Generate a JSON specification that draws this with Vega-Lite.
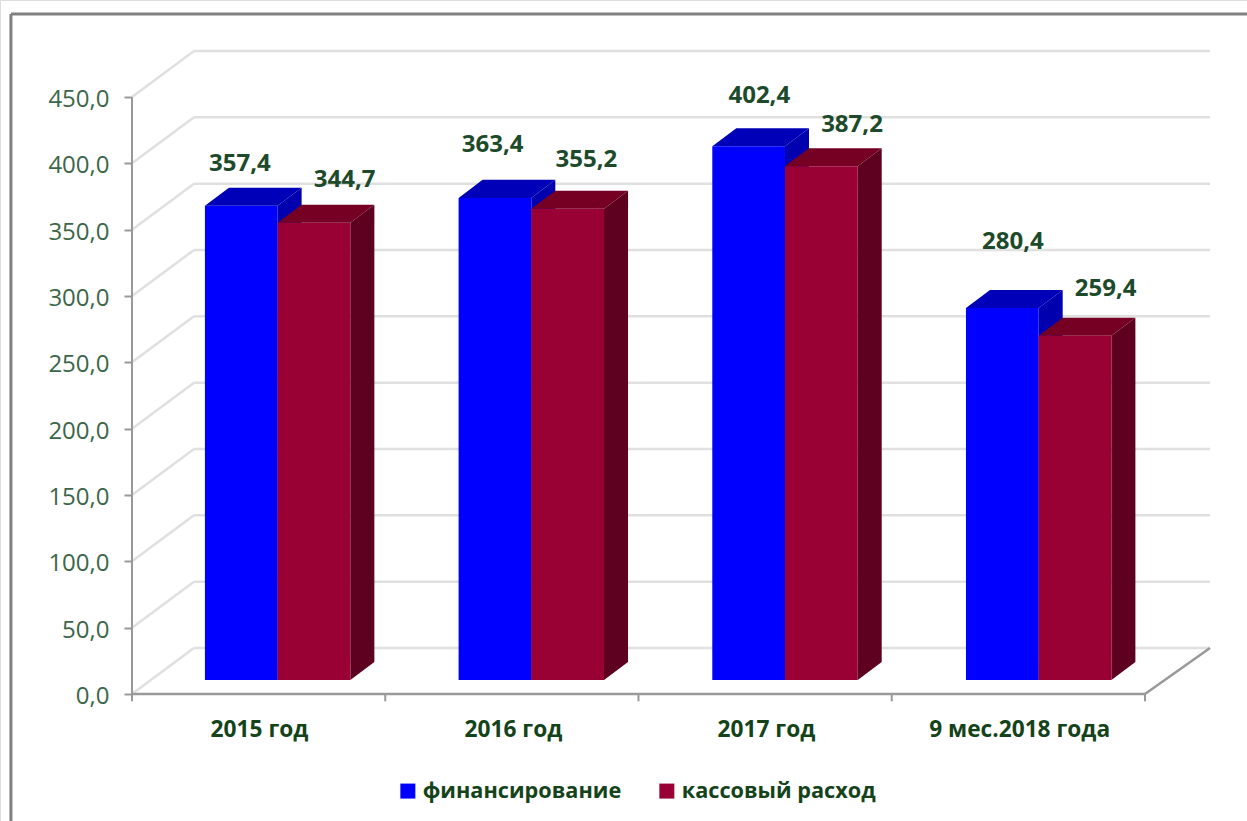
{
"$schema":"https://vega.github.io/schema/vega-lite/v6.json",
"width":1247,"height":821,"padding":0,"autosize":{"type":"none"},"background":"#ffffff",
"datasets":{
"bars":[
{"category":"2015 год","series":"финансирование","value":357.4},
{"category":"2015 год","series":"кассовый расход","value":344.7},
{"category":"2016 год","series":"финансирование","value":363.4},
{"category":"2016 год","series":"кассовый расход","value":355.2},
{"category":"2017 год","series":"финансирование","value":402.4},
{"category":"2017 год","series":"кассовый расход","value":387.2},
{"category":"9 мес.2018 года","series":"финансирование","value":280.4},
{"category":"9 мес.2018 года","series":"кассовый расход","value":259.4}
],
"ticks":[{"tick":0},{"tick":50},{"tick":100},{"tick":150},{"tick":200},{"tick":250},{"tick":300},{"tick":350},{"tick":400},{"tick":450}],
"xticks":[{"c":0},{"c":1},{"c":2},{"c":3},{"c":4}]
},
"layer":[
{"data":{"values":[{}]},"mark":{"type":"rule","color":"#808080","strokeWidth":3},
 "encoding":{"x":{"datum":-0.478,"type":"quantitative","scale":{"domain":[-0.5212,4.4028],"nice":false,"zero":false}},"x2":{"datum":4.4028},
 "y":{"datum":512.6,"type":"quantitative","scale":{"domain":[-95.73,523.1],"nice":false,"zero":false}}}},
{"data":{"values":[{}]},"mark":{"type":"rule","color":"#808080","strokeWidth":3},
 "encoding":{"x":{"datum":-0.478,"type":"quantitative","scale":{"domain":[-0.5212,4.4028],"nice":false,"zero":false}},
 "y":{"datum":512.6,"type":"quantitative","scale":{"domain":[-95.73,523.1],"nice":false,"zero":false}},"y2":{"datum":-95.73}}},
{"data":{"name":"ticks"},"transform":[{"calculate":"datum.tick+34.67","as":"back"}],
 "mark":{"type":"rule","color":"#e0e0e0","strokeWidth":2.5},
 "encoding":{"x":{"datum":0.2448,"type":"quantitative","scale":{"domain":[-0.5212,4.4028],"nice":false,"zero":false}},"x2":{"datum":4.2567},
 "y":{"field":"back","type":"quantitative","scale":{"domain":[-95.73,523.1],"nice":false,"zero":false}}}},
{"data":{"name":"ticks"},"transform":[{"calculate":"0","as":"near"},{"calculate":"0.2448","as":"far"},{"fold":["near","far"],"as":["stop","sx"]},{"calculate":"datum.tick+(datum.stop==='far'?34.67:0)","as":"sy"}],
 "mark":{"type":"line","color":"#e0e0e0","strokeWidth":2.5},
 "encoding":{"x":{"field":"sx","type":"quantitative","scale":{"domain":[-0.5212,4.4028],"nice":false,"zero":false},
   "axis":{"title":null,"values":[0.5015,1.504,2.503,3.503],"orient":"bottom","offset":-127,"domain":false,"ticks":false,"grid":false,"labelPadding":24,"labelLimit":400,
     "labelExpr":"['2015 год','2016 год','2017 год','9 мес.2018 года'][floor(datum.value)]","labelFont":"Open Sans","labelFontSize":22.7,"labelFontWeight":"bold","labelColor":"#14431a","labelAngle":0}},
 "y":{"field":"sy","type":"quantitative","scale":{"domain":[-95.73,523.1],"nice":false,"zero":false},
   "axis":{"title":null,"values":[0,50,100,150,200,250,300,350,400,450],"orient":"left","offset":-132,"domain":false,"grid":false,"tickSize":8,"tickColor":"#999999","tickWidth":2,"labelPadding":15,"labelOffset":2.5,
     "labelExpr":"replace(format(datum.value,'.1f'),'.',',')","labelFont":"Open Sans","labelFontSize":24,"labelColor":"#3c6648"}},
 "detail":{"field":"tick"}}},
{"data":{"values":[{"near":4,"far":4.2567,"a":0,"b":34.67}]},"transform":[{"fold":["near","far"],"as":["stop","sx"]},{"calculate":"datum.stop==='far'?datum.b:datum.a","as":"sy"}],
 "mark":{"type":"line","color":"#999999","strokeWidth":2.5},
 "encoding":{"x":{"field":"sx","type":"quantitative","scale":{"domain":[-0.5212,4.4028],"nice":false,"zero":false}},
 "y":{"field":"sy","type":"quantitative","scale":{"domain":[-95.73,523.1],"nice":false,"zero":false}}}},
{"data":{"values":[{}]},"mark":{"type":"rule","color":"#999999","strokeWidth":2.5},
 "encoding":{"x":{"datum":0,"type":"quantitative","scale":{"domain":[-0.5212,4.4028],"nice":false,"zero":false}},"x2":{"datum":4},
 "y":{"datum":0,"type":"quantitative","scale":{"domain":[-95.73,523.1],"nice":false,"zero":false}}}},
{"data":{"values":[{}]},"mark":{"type":"rule","color":"#999999","strokeWidth":2},
 "encoding":{"x":{"datum":0,"type":"quantitative","scale":{"domain":[-0.5212,4.4028],"nice":false,"zero":false}},
 "y":{"datum":0,"type":"quantitative","scale":{"domain":[-95.73,523.1],"nice":false,"zero":false}},"y2":{"datum":450}}},
{"data":{"name":"xticks"},"mark":{"type":"rule","color":"#999999","strokeWidth":2},
 "encoding":{"x":{"field":"c","type":"quantitative","scale":{"domain":[-0.5212,4.4028],"nice":false,"zero":false}},
 "y":{"datum":0,"type":"quantitative","scale":{"domain":[-95.73,523.1],"nice":false,"zero":false}},"y2":{"datum":-5.5}}},
{"data":{"name":"bars"},
 "transform":[
  {"calculate":"indexof(['2015 год','2016 год','2017 год','9 мес.2018 года'],datum.category)","as":"i"},
  {"calculate":"datum.series==='финансирование'?0:1","as":"s"},
  {"calculate":"datum.i*1.0017+0.288+datum.s*0.2871","as":"x0"},
  {"calculate":"datum.x0+0.2871","as":"x1"},
  {"calculate":"10.55","as":"base"},
  {"calculate":"datum.value+10.55","as":"top"},
  {"calculate":"datum.x0+[35,67,34,55,47,67,47,67][2*datum.i+datum.s]/253.25","as":"lx"},
  {"calculate":"datum.top+[42,43,53,49,50,41,66,47][2*datum.i+datum.s]/1.3267","as":"ly"},
  {"calculate":"replace(format(datum.value,'.1f'),'.',',')","as":"label"}
 ],
 "layer":[
  {"transform":[{"filter":"datum.s===0"},{"calculate":"datum.x1+0.0948","as":"xd"},{"fold":["x1","xd"],"as":["stop","sx"]},{"calculate":"datum.stop==='xd'?13.57:0","as":"k"},{"calculate":"datum.base+datum.k","as":"low"},{"calculate":"datum.top+datum.k","as":"high"}],
   "mark":{"type":"area","orient":"vertical","color":"#0000ae"},
   "encoding":{"x":{"field":"sx","type":"quantitative","scale":{"domain":[-0.5212,4.4028],"nice":false,"zero":false}},
   "y":{"field":"low","type":"quantitative","stack":null,"scale":{"domain":[-95.73,523.1],"nice":false,"zero":false}},"y2":{"field":"high"},"detail":{"field":"category"}}},
  {"transform":[{"filter":"datum.s===0"},{"calculate":"datum.x0","as":"xa"},{"calculate":"datum.x0+0.0948","as":"xb"},{"calculate":"datum.x1","as":"xc"},{"calculate":"datum.x1+0.0948","as":"xd"},{"fold":["xa","xb","xc","xd"],"as":["stop","sx"]},{"calculate":"datum.stop==='xd'?datum.top+13.57:datum.top","as":"low"},{"calculate":"datum.stop==='xa'?datum.top:datum.top+13.57","as":"high"}],
   "mark":{"type":"area","orient":"vertical","color":"#0000b8"},
   "encoding":{"x":{"field":"sx","type":"quantitative","scale":{"domain":[-0.5212,4.4028],"nice":false,"zero":false}},
   "y":{"field":"low","type":"quantitative","stack":null,"scale":{"domain":[-95.73,523.1],"nice":false,"zero":false}},"y2":{"field":"high"},"detail":{"field":"category"}}},
  {"transform":[{"filter":"datum.s===1"},{"calculate":"datum.x1+0.0948","as":"xd"},{"fold":["x1","xd"],"as":["stop","sx"]},{"calculate":"datum.stop==='xd'?13.57:0","as":"k"},{"calculate":"datum.base+datum.k","as":"low"},{"calculate":"datum.top+datum.k","as":"high"}],
   "mark":{"type":"area","orient":"vertical","color":"#5e0020"},
   "encoding":{"x":{"field":"sx","type":"quantitative","scale":{"domain":[-0.5212,4.4028],"nice":false,"zero":false}},
   "y":{"field":"low","type":"quantitative","stack":null,"scale":{"domain":[-95.73,523.1],"nice":false,"zero":false}},"y2":{"field":"high"},"detail":{"field":"category"}}},
  {"transform":[{"filter":"datum.s===1"},{"calculate":"datum.x0","as":"xa"},{"calculate":"datum.x0+0.0948","as":"xb"},{"calculate":"datum.x1","as":"xc"},{"calculate":"datum.x1+0.0948","as":"xd"},{"fold":["xa","xb","xc","xd"],"as":["stop","sx"]},{"calculate":"datum.stop==='xd'?datum.top+13.57:datum.top","as":"low"},{"calculate":"datum.stop==='xa'?datum.top:datum.top+13.57","as":"high"}],
   "mark":{"type":"area","orient":"vertical","color":"#760024"},
   "encoding":{"x":{"field":"sx","type":"quantitative","scale":{"domain":[-0.5212,4.4028],"nice":false,"zero":false}},
   "y":{"field":"low","type":"quantitative","stack":null,"scale":{"domain":[-95.73,523.1],"nice":false,"zero":false}},"y2":{"field":"high"},"detail":{"field":"category"}}},
  {"mark":{"type":"rect"},
   "encoding":{"x":{"field":"x0","type":"quantitative","scale":{"domain":[-0.5212,4.4028],"nice":false,"zero":false}},"x2":{"field":"x1"},
   "y":{"field":"base","type":"quantitative","scale":{"domain":[-95.73,523.1],"nice":false,"zero":false}},"y2":{"field":"top"},
   "color":{"field":"series","type":"nominal","scale":{"domain":["финансирование","кассовый расход"],"range":["#0000ff","#990033"]},
     "legend":{"title":null,"orient":"none","direction":"horizontal","legendX":397,"legendY":780,"symbolType":"square","symbolSize":225,"symbolStrokeWidth":0,"symbolOpacity":1,"labelFont":"Open Sans","labelFontSize":21.7,"labelFontWeight":"bold","labelColor":"#14431a","labelLimit":400,"labelOffset":4,"columnPadding":34,"padding":0}}}},
  {"mark":{"type":"text","font":"Open Sans","fontSize":24,"fontWeight":"bold","color":"#1c4a2a","align":"center","baseline":"middle"},
   "encoding":{"x":{"field":"lx","type":"quantitative","scale":{"domain":[-0.5212,4.4028],"nice":false,"zero":false}},
   "y":{"field":"ly","type":"quantitative","scale":{"domain":[-95.73,523.1],"nice":false,"zero":false}},"text":{"field":"label"}}}
 ]}
]
}
